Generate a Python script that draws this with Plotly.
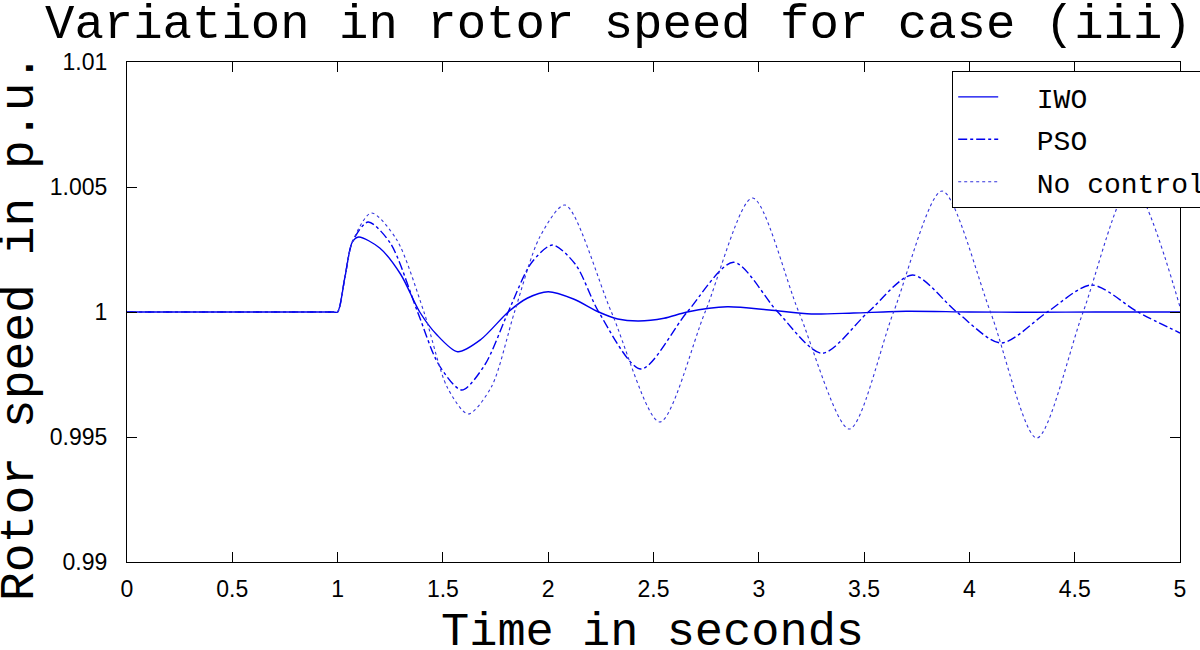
import plotly.graph_objects as go

# ---- data ----
t_iwo = [0, 0.5, 0.9, 0.98, 1.0, 1.035, 1.07, 1.1, 1.2, 1.3, 1.39, 1.47, 1.57, 1.68, 1.81, 1.9, 2.0, 2.12, 2.24, 2.33, 2.43, 2.55, 2.66, 2.85, 3.05, 3.25, 3.45, 3.7, 4.0, 4.3, 4.6, 5.0]
y_iwo = [1.0, 1.0, 1.0, 1.0, 1.0, 1.0014, 1.0028, 1.00300, 1.00256, 1.00150, 1.0, 0.99910, 0.99841, 0.99890, 1.0, 1.00055, 1.00081, 1.00052, 1.0, 0.99972, 0.99964, 0.99975, 1.0, 1.00021, 1.00008, 0.99992, 0.99996, 1.00003, 1.0, 0.99999, 1.0, 1.0]

t_pso = [0, 0.5, 0.9, 0.98, 1.0, 1.035, 1.07, 1.145, 1.25, 1.38, 1.48, 1.59, 1.70, 1.81, 1.92, 2.02, 2.13, 2.24, 2.44, 2.66, 2.88, 3.09, 3.30, 3.52, 3.73, 3.94, 4.15, 4.37, 4.58, 4.80, 5.0]
y_pso = [1.0, 1.0, 1.0, 1.0, 1.0, 1.0014, 1.0028, 1.0036, 1.00276, 1.0, 0.9979, 0.99688, 0.9979, 1.0, 1.00196, 1.00268, 1.0019, 1.0, 0.99772, 1.0, 1.00199, 1.0, 0.99835, 1.0, 1.00148, 1.0, 0.99876, 1.0, 1.00108, 1.0, 0.99916]

t_nc = [0, 0.5, 0.9, 0.98, 1.0, 1.035, 1.07, 1.16, 1.28, 1.41, 1.52, 1.62, 1.73, 1.84, 1.96, 2.08, 2.30, 2.53, 2.745, 2.97, 3.19, 3.43, 3.64, 3.87, 4.10, 4.32, 4.54, 4.77, 5.0]
y_nc = [1.0, 1.0, 1.0, 1.0, 1.0, 1.0014, 1.0028, 1.00396, 1.0029, 1.0, 0.9970, 0.99592, 0.9970, 1.0, 1.0030, 1.00428, 1.0, 0.99560, 1.0, 1.00456, 1.0, 0.99532, 1.0, 1.00484, 1.0, 0.99496, 1.0, 1.00510, 1.0002]

names = ["IWO", "PSO", "No control"]
x_ticks = [0, 0.5, 1, 1.5, 2, 2.5, 3, 3.5, 4, 4.5, 5]
x_ticktext = ["0", "0.5", "1", "1.5", "2", "2.5", "3", "3.5", "4", "4.5", "5"]
y_ticks = [0.99, 0.995, 1.0, 1.005, 1.01]
y_ticktext = ["0.99", "0.995", "1", "1.005", "1.01"]

BLUE = "#0000ee"
MONO = "Liberation Mono, Courier New, monospace"
SANS = "Liberation Sans, Arial, sans-serif"
PAD = "\u00a0\u00a0"

fig = go.Figure()
fig.add_trace(go.Scatter(x=t_iwo, y=y_iwo, name=PAD + names[0], mode="lines", legendgroup="a",
                         line=dict(color=BLUE, width=1.4, shape="spline", smoothing=0.8)))
fig.add_trace(go.Scatter(x=t_pso, y=y_pso, name=PAD + names[1], mode="lines", legendgroup="b",
                         line=dict(color=BLUE, width=1.4, dash="dashdot", shape="spline", smoothing=0.8)))
fig.add_trace(go.Scatter(x=t_nc, y=y_nc, name=PAD + names[2], mode="lines", legendgroup="c",
                         line=dict(color="#3333dd", width=1.1, dash="dot", shape="spline", smoothing=0.8)))

L, R, T, B = 127, 20, 62, 88
W, H = 1200, 650
pw = W - L - R
ph = H - T - B

def px(xp):
    return (xp - L) / pw

def py(yp):
    return 1 - (yp - T) / ph

axis_common = dict(showgrid=False, zeroline=False, showline=True, linecolor="black", linewidth=1.2,
                   mirror="ticks", ticks="inside", ticklen=10, tickcolor="black", tickwidth=1,
                   tickfont=dict(family=SANS, size=23, color="black"))

fig.update_xaxes(range=[0, 5], tickvals=x_ticks, ticktext=x_ticktext, ticklabelstandoff=6, **axis_common)
fig.update_yaxes(range=[0.99, 1.01], tickvals=y_ticks, ticktext=y_ticktext, ticklabelstandoff=14, **axis_common)

fig.update_layout(
    width=W, height=H,
    margin=dict(l=L, r=R, t=T, b=B, autoexpand=False),
    plot_bgcolor="white", paper_bgcolor="white",
    showlegend=True,
    legend=dict(x=px(952), y=py(71), xanchor="left", yanchor="top",
                bgcolor="white", bordercolor="black", borderwidth=1.2,
                font=dict(family=MONO, size=28, color="black"),
                tracegroupgap=3, itemwidth=40),
    annotations=[
        dict(text="Variation in rotor speed for case (iii)", xref="paper", yref="paper",
             x=px(618), y=py(25), xanchor="center", yanchor="middle", showarrow=False,
             font=dict(family=MONO, size=49, color="black")),
        dict(text="Time in seconds", xref="paper", yref="paper",
             x=px(652), y=py(632), xanchor="center", yanchor="middle", showarrow=False,
             font=dict(family=MONO, size=47, color="black")),
        dict(text="Rotor speed in p.u.", xref="paper", yref="paper",
             x=px(20), y=py(328), xanchor="center", yanchor="middle", showarrow=False, textangle=-90,
             font=dict(family=MONO, size=48, color="black")),
    ],
)

fig.write_html("out.html", config={"displayModeBar": False},
               post_script="document.body.style.margin='0';")
